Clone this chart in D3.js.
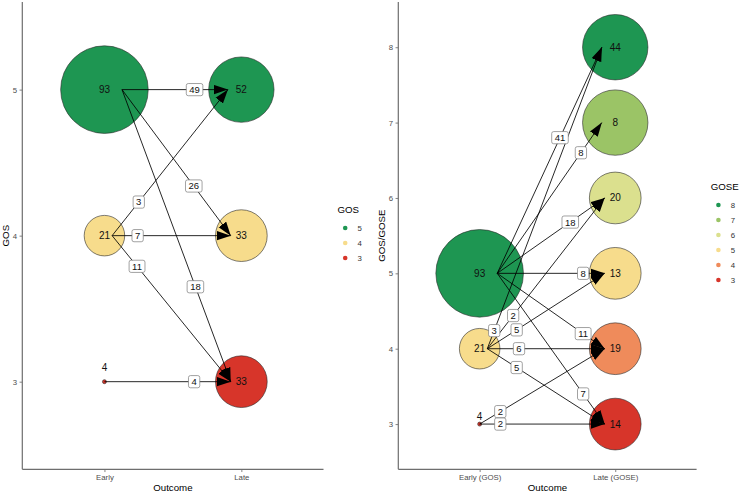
<!DOCTYPE html>
<html><head><meta charset="utf-8">
<script src="https://cdn.jsdelivr.net/npm/d3@7"></script>
<style>body{margin:0;background:#fff}svg{display:block;font-family:"Liberation Sans",Arial,Helvetica,sans-serif}</style>
</head><body><svg id="c" width="740" height="493"></svg>
<script>
// ---------- data ----------
const leftCategories = ["Early", "Late"];
const leftEarlyLevels = [5, 4, 3];
const leftEarlyN = [93, 21, 4];
const leftLateLevels = [5, 4, 3];
const leftLateN = [52, 33, 33];
const leftFrom = [5, 5, 5, 4, 4, 4, 3];
const leftTo   = [5, 4, 3, 5, 4, 3, 3];
const leftFlow = [49, 26, 18, 3, 7, 11, 4];
const leftTicks = [3, 4, 5];

const rightCategories = ["Early (GOS)", "Late (GOSE)"];
const rightEarlyLevels = [5, 4, 3];
const rightEarlyN = [93, 21, 4];
const rightLateLevels = [8, 7, 6, 5, 4, 3];
const rightLateN = [44, 8, 20, 13, 19, 14];
const rightLateSizeN = [52, 52, 33, 33, 33, 33];
const rightFrom = [5, 5, 5, 5, 5, 5, 4, 4, 4, 4, 4, 3, 3];
const rightTo   = [8, 7, 6, 5, 4, 3, 8, 6, 5, 4, 3, 4, 3];
const rightFlow = [41, 8, 18, 8, 11, 7, 3, 2, 5, 6, 5, 2, 2];
const rightTicks = [3, 4, 5, 6, 7, 8];

const gosLegend = [5, 4, 3];
const goseLegend = [8, 7, 6, 5, 4, 3];

// ---------- layout / style (not data) ----------
const leftLabelT = [0.685, 0.66, 0.675, 0.23, 0.215, 0.21, 0.71];
const rightLabelT = [0.6, 0.8, 0.68, 0.8, 0.8, 0.8, 0.06, 0.22, 0.25, 0.27, 0.25, 0.165, 0.165];
const goseColor = {8:"#1e9652",7:"#9bc466",6:"#dbe08e",5:"#f7dc8c",4:"#ef8b5b",3:"#d7352a"};
const gosColor = {5:"#1e9652",4:"#f7dc8c",3:"#d7352a"};

const svg = d3.select("#c");
const defs = svg.append("defs");
defs.append("marker").attr("id","arr").attr("markerUnits","userSpaceOnUse")
  .attr("viewBox","0 0 14 10").attr("refX",14).attr("refY",5)
  .attr("markerWidth",14).attr("markerHeight",10).attr("orient","auto")
  .append("path").attr("d","M0,0.3 L14,5 L0,9.7 Z").attr("fill","#000");

const allN = leftEarlyN.concat(leftLateN, rightEarlyN, rightLateN);
const sizeT = d3.scaleLinear().domain([d3.min(allN), d3.max(allN)]).range([0, 1]);
const rLin = d3.scaleLinear().domain([0, 1]).range([2, 43.8]);
const rad = n => rLin(Math.sqrt(sizeT(n)));

function panel(o) {
  const x = d3.scalePoint().domain(o.cats).range([o.x0, o.x1]).padding(0.6);
  const y = d3.scaleLinear().domain(o.ydom).range([469.3, 2]);
  const g = svg.append("g");
  const ya = g.append("g").attr("transform",`translate(${o.x0},0)`)
    .call(d3.axisLeft(y).tickValues(o.ticks).tickFormat(d3.format("d")).tickSize(2.75).tickPadding(2.5));
  const xa = g.append("g").attr("transform","translate(0,469.3)")
    .call(d3.axisBottom(x).tickSize(2.75).tickPadding(2.5));
  [ya, xa].forEach(a => {
    a.select(".domain").remove();
    a.selectAll(".tick line").attr("stroke","#333").attr("stroke-width",0.6);
    a.selectAll(".tick text").attr("fill","#4d4d4d").style("font-size","7.8px").style("font-family","Liberation Sans, Arial, sans-serif");
  });
  g.append("line").attr("x1",o.x0).attr("x2",o.x0).attr("y1",2).attr("y2",469.3).attr("stroke","#6e6e6e").attr("stroke-width",1.2);
  g.append("line").attr("x1",o.x0).attr("x2",o.x1).attr("y1",469.3).attr("y2",469.3).attr("stroke","#6e6e6e").attr("stroke-width",1.2);
  g.append("text").attr("x",(o.x0+o.x1)/2).attr("y",491).attr("text-anchor","middle").style("font-size","9.7px").text("Outcome");
  g.append("text").attr("transform",`translate(${o.ytx},${y(o.ydom[0])/2+y(o.ydom[1])/2}) rotate(-90)`)
    .attr("text-anchor","middle").attr("dy","0.35em").style("font-size","9.7px").text(o.ytitle);

  const early = o.eL.map((l,i)=>({l, n:o.eN[i], s:o.eN[i], x:x(o.cats[0]), y:y(l), c:gosColor[l]}));
  const late = o.lL.map((l,i)=>({l, n:o.lN[i], s:o.lS[i], x:x(o.cats[1]), y:y(l), c:o.col[l]}));
  const nodes = early.concat(late);
  g.selectAll("circle.node").data(nodes).join("circle").attr("class","node")
    .attr("cx",d=>d.x).attr("cy",d=>d.y).attr("r",d=>rad(d.s))
    .attr("fill",d=>d.c).attr("stroke","#2a2a2a").attr("stroke-width",0.6);
  g.selectAll("text.nl").data(nodes).join("text").attr("class","nl")
    .attr("x",d=>d.x).attr("y",d=> d.n<=4 ? d.y - (y(0)-y(0.1)) : d.y)
    .attr("dy","0.35em").attr("text-anchor","middle").style("font-size","10px").attr("fill","#111").text(d=>d.n);

  const edges = o.from.map((f,i)=>{
    const s = early.find(e=>e.l===f), t = late.find(e=>e.l===o.to[i]);
    const x1 = s.x + 0.42*(rad(s.s)-2), y1 = s.y;
    const x2 = t.x - 0.41*rad(t.s), y2 = t.y;
    return {x1,y1,x2,y2,v:o.flow[i],t:o.lt[i]};
  });
  g.selectAll("line.e").data(edges).join("line").attr("class","e")
    .attr("x1",d=>d.x1).attr("y1",d=>d.y1).attr("x2",d=>d.x2).attr("y2",d=>d.y2)
    .attr("stroke","#000").attr("stroke-width",0.85).attr("marker-end","url(#arr)");
  const lg = g.selectAll("g.lab").data(edges).join("g").attr("class","lab")
    .attr("transform",d=>`translate(${d.x1+(d.x2-d.x1)*d.t},${d.y1+(d.y2-d.y1)*d.t})`);
  lg.append("rect");
  lg.append("text").attr("text-anchor","middle").attr("dy","0.36em").style("font-size","9.5px").attr("fill","#111").text(d=>d.v);
  lg.each(function(){
    const w = d3.select(this).select("text").node().getComputedTextLength() + 6;
    d3.select(this).select("rect").attr("x",-w/2).attr("y",-6.1).attr("width",w).attr("height",12.2)
      .attr("rx",2).attr("fill","#fff").attr("stroke","#7a7a7a").attr("stroke-width",0.7);
  });

  const L = svg.append("g");
  L.append("text").attr("x",o.lx).attr("y",o.ly).attr("dy","0.35em").style("font-size","9.7px").text(o.ltitle);
  o.leg.forEach((l,i)=>{
    const yy = o.ly + 18 + i*15;
    L.append("circle").attr("cx",o.lx+7.7).attr("cy",yy).attr("r",2.3).attr("fill",o.col[l]);
    L.append("text").attr("x",o.lx+20).attr("y",yy).attr("dy","0.35em").style("font-size","7.8px").attr("fill","#333").text(l);
  });
}

panel({cats:leftCategories, x0:22.3, x1:323.5, ydom:[2.4,5.6], ticks:leftTicks, ytitle:"GOS", ytx:6,
  eL:leftEarlyLevels, eN:leftEarlyN, lL:leftLateLevels, lN:leftLateN, lS:leftLateN,
  from:leftFrom, to:leftTo, flow:leftFlow, lt:leftLabelT, col:gosColor,
  lx:337.5, ly:210, ltitle:"GOS", leg:gosLegend});
panel({cats:rightCategories, x0:398.3, x1:696.6, ydom:[2.4,8.6], ticks:rightTicks, ytitle:"GOS/GOSE", ytx:382,
  eL:rightEarlyLevels, eN:rightEarlyN, lL:rightLateLevels, lN:rightLateN, lS:rightLateSizeN,
  from:rightFrom, to:rightTo, flow:rightFlow, lt:rightLabelT, col:goseColor,
  lx:710.7, ly:187, ltitle:"GOSE", leg:goseLegend});
</script></body></html>
